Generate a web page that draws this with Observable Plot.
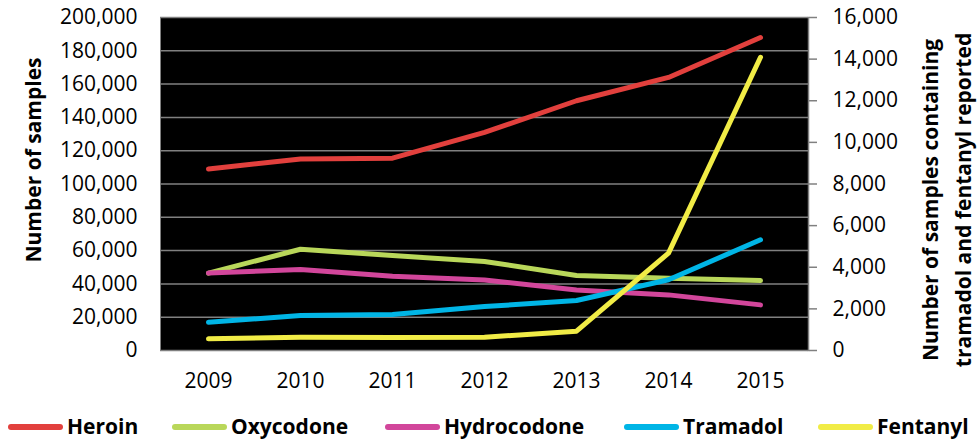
<!DOCTYPE html>
<html>
<head>
<meta charset="utf-8">
<script src="https://cdn.jsdelivr.net/npm/d3@7"></script>
<script src="https://cdn.jsdelivr.net/npm/@observablehq/plot@0.6"></script>
<style>
  html, body { margin: 0; padding: 0; background: #fff; }
  #wrap { width: 978px; height: 441px; position: relative; overflow: hidden; font-family: 'Open Sans', sans-serif; }
  #legend { position: relative; width: 978px; height: 33px; }
  .sw { position: absolute; height: 6px; border-radius: 3px; top: 16px; }
  .lt { position: absolute; top: 2px; line-height: 33px; font-size: 21px; font-weight: bold; color: #000; white-space: nowrap; }
  .title { position: absolute; font-size: 21px; font-weight: bold; color: #000; white-space: pre; text-align: center;
           transform: translate(-50%, -50%) rotate(-90deg); line-height: 33px; }
</style>
</head>
<body>
<div id="wrap"><div id="chart"></div><div id="legend"></div>
  <div class="title" id="ltitle" style="left:33px; top:160px;"></div>
  <div class="title" id="rtitle" style="left:947px; top:200px;"></div>
</div>
<script>
const years = ["2009", "2010", "2011", "2012", "2013", "2014", "2015"];
const seriesNames = ["Heroin", "Oxycodone", "Hydrocodone", "Tramadol", "Fentanyl"];
const seriesColors = ["#E2403D", "#B9D75A", "#D2469B", "#00B5E6", "#F1EC46"];
// left axis series
const heroin = [109000, 115000, 115500, 131000, 150000, 164000, 188000];
const oxycodone = [46500, 60800, 57000, 53500, 45000, 43400, 42000];
const hydrocodone = [46500, 48600, 44600, 42400, 36400, 33400, 27400];
// right axis series
const tramadol = [1360, 1680, 1730, 2110, 2400, 3400, 5320];
const fentanyl = [560, 640, 625, 640, 930, 4680, 14090];
const leftTicks = [0, 20000, 40000, 60000, 80000, 100000, 120000, 140000, 160000, 180000, 200000];
const rightTicks = [0, 2000, 4000, 6000, 8000, 10000, 12000, 14000, 16000];
const leftTitle = "Number of samples";
const rightTitle = "Number of samples containing\ntramadol and fentanyl reported";

const ratio = 200000 / 16000;
const seriesData = [heroin, oxycodone, hydrocodone, tramadol, fentanyl];
const onRight = [false, false, false, true, true];
const rows = [];
seriesNames.forEach((name, i) => {
  seriesData[i].forEach((v, j) => {
    rows.push({series: name, year: years[j], v: onRight[i] ? v * ratio : v});
  });
});
const fmt = d3.format(",");

const chart = Plot.plot({
  width: 978,
  height: 408,
  marginLeft: 160,
  marginRight: 170,
  marginTop: 17,
  marginBottom: 58,
  style: {fontFamily: "'Open Sans', sans-serif", fontSize: "21px", background: "white", color: "#000", overflow: "visible"},
  x: {type: "point", domain: years, padding: 0.5, label: null},
  y: {domain: [0, 200000], label: null},
  color: {domain: seriesNames, range: seriesColors},
  marks: [
    Plot.frame({fill: "black"}),
    Plot.ruleY(leftTicks, {stroke: "#808080", strokeWidth: 1.5}),
    Plot.frame({anchor: "right", stroke: "#808080", strokeWidth: 1.5}),
    Plot.axisX({tickSize: 0, tickPadding: 23, label: null}),
    Plot.axisY({ticks: leftTicks, tickSize: 0, tickPadding: 23, tickFormat: fmt, label: null}),
    Plot.axisY({anchor: "right", ticks: rightTicks.map(d => d * ratio), tickSize: 8, tickPadding: 16,
      stroke: "#808080", strokeWidth: 1.5, tickFormat: d => fmt(Math.round(d / ratio)), label: null}),
    Plot.line(rows, {x: "year", y: "v", z: "series", stroke: "series", strokeWidth: 5, strokeLinejoin: "round", strokeLinecap: "round"})
  ]
});
document.getElementById("chart").appendChild(chart);
document.getElementById("ltitle").textContent = leftTitle;
document.getElementById("rtitle").textContent = rightTitle;

// legend
const legendSwatchX = [8, 172, 385, 624, 818];
const legend = document.getElementById("legend");
seriesNames.forEach((name, i) => {
  const sw = document.createElement("div");
  sw.className = "sw";
  sw.style.left = legendSwatchX[i] + "px";
  sw.style.width = "55px";
  sw.style.background = seriesColors[i];
  legend.appendChild(sw);
  const t = document.createElement("span");
  t.className = "lt";
  t.style.left = (legendSwatchX[i] + 59) + "px";
  t.textContent = name;
  legend.appendChild(t);
});
</script>
</body>
</html>
